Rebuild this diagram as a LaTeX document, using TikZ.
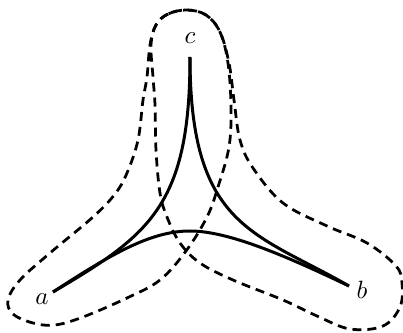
\documentclass[tikz,border=0pt]{standalone}
\begin{document}
\begin{tikzpicture}[x=0.4pt,y=-0.4pt,
  curve/.style={line width=1.2pt},
  tube/.style={line width=1.1pt,dash pattern=on 3.6pt off 2.4pt},
  lab/.style={inner sep=0pt}]
\useasboundingbox (0,0) rectangle (403,333);
\coordinate (av) at (53,292);
\coordinate (bv) at (349,286);
\coordinate (cv) at (190,57);
\coordinate (mab) at (190,231);
\node[lab] (a) at (42,299) {$a$};
\node[lab] (b) at (362,290) {$b$};
\node[lab] (c) at (190,38) {$c$};
% solid curves
\draw[curve] (av) .. controls (150,235) and (190,205) .. (cv);
\draw[curve] (cv) .. controls (190,228) and (255,232) .. (bv);
\draw[curve] (av) .. controls (110,255) and (150,231) .. (mab)
                  .. controls (230,231) and (290,258) .. (bv);
% loop a-c
\draw[tube] plot[smooth cycle,tension=0.6] coordinates {
 (187,10) (168,14) (156,25) (150,45) (147,77) (143,100) (138,140) (127,173) (115,194)
 (93,217) (50,253) (20,280) (8,300) (13,314) (33,323) (55,325) (83,317)
 (127,298) (160,280) (186,251) (207,217) (218,187) (229,147) (231,107)
 (228,63) (220,32) (206,15)};
% loop c-b
\draw[tube] plot[smooth cycle,tension=0.6] coordinates {
 (187,10) (168,14) (156,25) (151,45) (153,77) (155,105) (156,150) (160,193) (167,217)
 (180,243) (200,263) (233,280) (283,300) (317,316) (350,329) (383,326)
 (400,307) (402,283) (396,266) (367,243) (327,226) (283,203) (253,168)
 (240,140) (234,100) (229,63) (220,32) (206,15)};
\end{tikzpicture}
\end{document}
